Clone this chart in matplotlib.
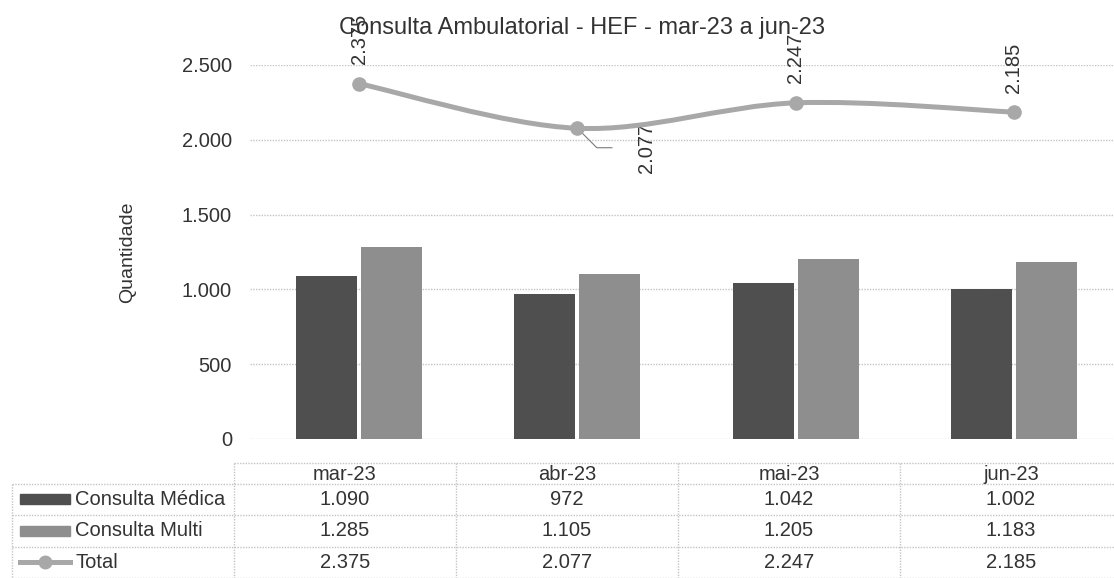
import numpy as np
import matplotlib
matplotlib.use('Agg')
import matplotlib.pyplot as plt
from matplotlib.path import Path
from matplotlib.patches import PathPatch, Rectangle
from matplotlib.lines import Line2D

plt.rcParams['font.family'] = ['Liberation Sans', 'DejaVu Sans']

# data
meses = ['mar-23', 'abr-23', 'mai-23', 'jun-23']
consulta_medica = [1090, 972, 1042, 1002]
consulta_multi = [1285, 1105, 1205, 1183]
total = [2375, 2077, 2247, 2185]
series_names = ['Consulta Médica', 'Consulta Multi', 'Total']

c_dark = '#4f4f4f'
c_light = '#8e8e8e'
c_line = '#a8a8a8'
c_text = '#333333'
c_grid = '#c4c4c4'
fs = 14.5


def br(v):
    return f'{int(v):,}'.replace(',', '.')


W, H = 1114, 578
fig = plt.figure(figsize=(W / 100, H / 100), dpi=100)

# main plot area (runs a little past the right edge, as in the scan)
ax = fig.add_axes([250 / W, (H - 439) / H, 873 / W, (439 - 65) / H])
ax.set_xlim(-0.5, 3.5)
ax.set_ylim(0, 2500)
ax.set_yticks(np.arange(0, 2501, 500))
ax.yaxis.set_major_formatter(plt.FuncFormatter(lambda v, p: br(v)))
ax.tick_params(axis='y', length=0, pad=13, labelsize=fs, labelcolor=c_text)
ax.set_xticks([])
for s in ax.spines.values():
    s.set_visible(False)
ax.grid(axis='y', color=c_grid, lw=1, ls=(0, (1, 1)))
ax.set_axisbelow(True)
ax.set_ylabel('Quantidade', fontsize=14, color=c_text)
ax.yaxis.set_label_coords((136 - 250) / 873, 0.5)

x = np.arange(len(meses))
bw = 0.28
ax.bar(x - 0.149, consulta_medica, width=bw, color=c_dark)
ax.bar(x + 0.149, consulta_multi, width=bw, color=c_light)

# smoothed total line (bezier through the points)
pts = np.column_stack([x, total]).astype(float)
ext = np.vstack([pts[0], pts, pts[-1]])
verts = [tuple(pts[0])]
codes = [Path.MOVETO]
for i in range(len(pts) - 1):
    p0, p1, p2, p3 = ext[i], ext[i + 1], ext[i + 2], ext[i + 3]
    c1 = p1 + (p2 - p0) / 6
    c2 = p2 - (p3 - p1) / 6
    verts += [tuple(c1), tuple(c2), tuple(p2)]
    codes += [Path.CURVE4] * 3
ax.add_patch(PathPatch(Path(verts, codes), fill=False, edgecolor=c_line,
                       lw=3.6, capstyle='round', zorder=4))
ax.plot(x, total, 'o', ms=9.5, color=c_line, zorder=5)

for i, v in enumerate(total):
    if i == 1:
        ax.annotate(br(v), (x[i], v), xytext=(50, -14), textcoords='offset points',
                    rotation=90, ha='center', va='center', fontsize=fs, color=c_text)
        ax.annotate('', (x[i], v), xytext=(25, -14), textcoords='offset points',
                    arrowprops=dict(arrowstyle='-', color='#7a7a7a', lw=0.8,
                                    shrinkA=0, shrinkB=5,
                                    connectionstyle='angle,angleA=0,angleB=-45'))
    else:
        ax.annotate(br(v), (x[i], v), xytext=(0, 14), textcoords='offset points',
                    rotation=90, ha='center', va='bottom', fontsize=fs, color=c_text)

fig.text(582 / W, 1 - 28 / H, 'Consulta Ambulatorial - HEF - mar-23 a jun-23',
         ha='center', va='center', fontsize=17, color=c_text)

# data table
tx = fig.add_axes([12 / W, 0, 1110 / W, (H - 463) / H])
tx.set_xlim(-1, 4)
hdr = 0.66
tx.set_ylim(hdr + 3.0, 0)
tx.axis('off')
tab = dict(color=c_grid, lw=1, ls=(0, (1, 1)), clip_on=False)
tx.plot([0, 4], [0, 0], **tab)
for r in range(4):
    tx.plot([-1, 4], [hdr + r, hdr + r], **tab)
tx.plot([-1, -1], [hdr, hdr + 3], **tab)
for c in range(4):
    tx.plot([c, c], [0, hdr + 3], **tab)

for j, m in enumerate(meses):
    tx.text(j + 0.5, hdr / 2 + 0.03, m, ha='center', va='center', fontsize=fs, color=c_text)
rows = [consulta_medica, consulta_multi, total]
for r, vals in enumerate(rows):
    yc = hdr + r + 0.5
    for j, v in enumerate(vals):
        tx.text(j + 0.5, yc, br(v), ha='center', va='center', fontsize=fs, color=c_text)
    tx.text(-0.716, yc, series_names[r], ha='left', va='center', fontsize=fs, color=c_text)

tx.add_patch(Rectangle((-0.964, hdr + 0.5 - 0.16), 0.225, 0.32, color=c_dark))
tx.add_patch(Rectangle((-0.964, hdr + 1.5 - 0.16), 0.225, 0.32, color=c_light))
tx.add_line(Line2D([-0.964, -0.739], [hdr + 2.5, hdr + 2.5], color=c_line, lw=3.6))
tx.plot([-0.8515], [hdr + 2.5], 'o', ms=9, color=c_line)

fig.savefig('out.png', dpi=100)
